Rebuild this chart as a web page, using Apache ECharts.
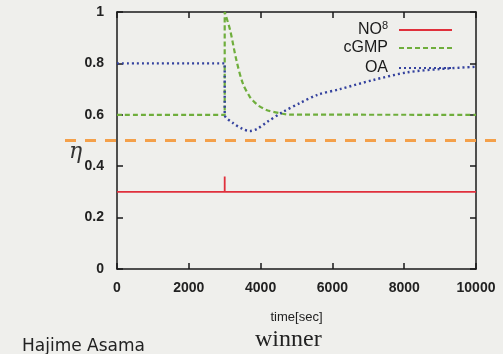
<!DOCTYPE html>
<html>
<head>
<meta charset="utf-8">
<script src="https://cdn.jsdelivr.net/npm/echarts@6/dist/echarts.min.js"></script>
<style>
  html, body { margin: 0; padding: 0; background: #efefec; }
  #chart { width: 503px; height: 354px; }
</style>
</head>
<body>
<div id="chart"></div>
<script>
// 数据
const xTicks = [0, 2000, 4000, 6000, 8000, 10000];
const yTicks = [0, 0.2, 0.4, 0.6, 0.8, 1];

// NO^8：0.3 恒定，3000 秒处有一个尖峰
const no8Time = [0, 3000, 3000, 3000, 10000];
const no8Value = [0.3, 0.3, 0.36, 0.3, 0.3];

// cGMP：3000 秒跳到 1，随后衰减回 0.6
const cgmpTime = [0, 3000, 3000, 3150, 3330, 3510, 3700, 3790, 3950, 4180, 4540, 4800, 10000];
const cgmpValue = [0.6, 0.6, 1.0, 0.93, 0.81, 0.72, 0.67, 0.655, 0.635, 0.618, 0.606, 0.601, 0.6];

// OA：0.8 降到 0.6，先下探再慢慢回升
const oaTime = [0, 3000, 3000, 3230, 3500, 3700, 3900, 4180, 4620, 5100, 5570, 6210, 7130, 8080, 9000, 10000];
const oaValue = [0.8, 0.8, 0.6, 0.568, 0.545, 0.537, 0.545, 0.572, 0.611, 0.646, 0.677, 0.70, 0.735, 0.765, 0.778, 0.787];

// 阈值虚线
const thresholdValue = 0.5;

function pairs(xs, ys) {
    return xs.map((x, i) => [x, ys[i]]);
}

const chart = echarts.init(document.getElementById('chart'));

const axisColor = '#1a1a1a';
const labelStyle = { color: '#222', fontSize: 14, fontFamily: 'Liberation Sans', fontWeight: 'bold' };
const tickStyle = { show: true, inside: true, length: 6, lineStyle: { color: axisColor, width: 1.5 } };
const lineStyle = { show: true, onZero: false, lineStyle: { color: axisColor, width: 1.5 } };

function legendAt(name, top) {
    return {
        data: [name],
        right: 50,
        top: top,
        align: 'right',
        itemWidth: 53,
        itemHeight: 10,
        itemGap: 0,
        padding: 0,
        itemStyle: { opacity: 0 },
        formatter: n => n === 'NO8' ? 'NO{sup|8}' : n,
        textStyle: {
            color: '#1a1a1a',
            fontSize: 16,
            fontFamily: 'Liberation Sans',
            padding: [0, 6, 0, 0],
            rich: {
                sup: { fontSize: 11, padding: [0, 0, 9, 0], color: '#1a1a1a', fontFamily: 'Liberation Sans' }
            }
        }
    };
}

const option = {
    backgroundColor: '#efefec',
    animation: false,
    title: [
        { text: 'winner', left: 250, top: 323, textStyle: { fontFamily: 'Liberation Serif', fontSize: 24, fontWeight: 'normal', color: '#222' } },
        { text: 'Hajime Asama', left: 17, top: 333, textStyle: { fontFamily: 'DejaVu Sans', fontSize: 17, fontWeight: 'normal', color: '#222' } },
        { text: 'η', left: 64, top: 136, textStyle: { fontFamily: 'DejaVu Serif', fontStyle: 'italic', fontSize: 22, fontWeight: 'normal', color: '#333' } }
    ],
    legend: [legendAt('NO8', 20), legendAt('cGMP', 40), legendAt('OA', 60)],
    grid: [
        { left: 117, right: 27, top: 12, bottom: 85 },
        { left: 65, right: 0, top: 12, bottom: 85 }
    ],
    xAxis: [
        {
            gridIndex: 0, type: 'value', min: 0, max: 10000, interval: 2000,
            name: 'time[sec]', nameLocation: 'middle', nameGap: 42,
            nameTextStyle: { color: '#222', fontSize: 13, fontFamily: 'Liberation Sans' },
            axisLine: lineStyle,
            axisTick: tickStyle,
            axisLabel: Object.assign({ margin: 12, formatter: v => String(v) }, labelStyle),
            splitLine: { show: false }
        },
        {
            gridIndex: 0, type: 'value', position: 'top', min: 0, max: 10000, interval: 2000,
            axisLine: lineStyle,
            axisTick: tickStyle,
            axisLabel: { show: false },
            splitLine: { show: false }
        },
        { gridIndex: 1, type: 'value', min: 0, max: 1, show: false }
    ],
    yAxis: [
        {
            gridIndex: 0, type: 'value', min: 0, max: 1, interval: 0.2,
            axisLine: lineStyle,
            axisTick: tickStyle,
            axisLabel: Object.assign({ margin: 13, formatter: v => String(Math.round(v * 10) / 10) }, labelStyle),
            splitLine: { show: false }
        },
        {
            gridIndex: 0, type: 'value', position: 'right', min: 0, max: 1, interval: 0.2,
            axisLine: lineStyle,
            axisTick: tickStyle,
            axisLabel: { show: false },
            splitLine: { show: false }
        },
        { gridIndex: 1, type: 'value', min: 0, max: 1, show: false }
    ],
    series: [
        {
            name: 'threshold', type: 'line', xAxisIndex: 2, yAxisIndex: 2,
            data: [[0, thresholdValue], [1, thresholdValue]],
            symbol: 'none', silent: true, z: 1,
            lineStyle: { color: '#f4a04a', width: 3, type: [11, 9] }
        },
        {
            name: 'NO8', type: 'line', data: pairs(no8Time, no8Value),
            symbol: 'none', z: 3,
            lineStyle: { color: '#e0303c', width: 1.8 }, itemStyle: { color: '#e0303c' }
        },
        {
            name: 'cGMP', type: 'line', data: pairs(cgmpTime, cgmpValue),
            symbol: 'none', smooth: 0.3, z: 4,
            lineStyle: { color: '#6fae3c', width: 2.2, type: [5, 3] }, itemStyle: { color: '#6fae3c' }
        },
        {
            name: 'OA', type: 'line', data: pairs(oaTime, oaValue),
            symbol: 'none', smooth: 0.3, z: 5,
            lineStyle: { color: '#34429e', width: 2.4, type: [2, 3] }, itemStyle: { color: '#34429e' }
        }
    ]
};

chart.setOption(option);
</script>
</body>
</html>
